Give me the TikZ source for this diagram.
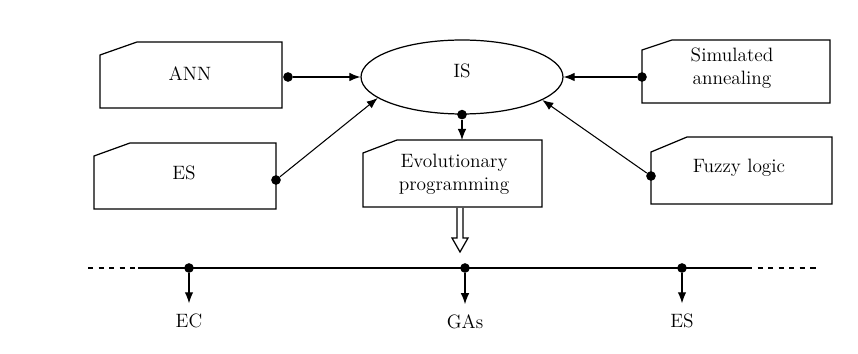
\documentclass[tikz,border=0pt]{standalone}
\usetikzlibrary{shapes.geometric,arrows.meta}
\tikzset{
  blk/.style={draw, line width=0.7pt},
  dotp/.style={circle, fill=black, inner sep=0pt, minimum size=5.5pt},
  conn/.style={-{Latex[length=2.2mm,width=1.7mm]}, line width=0.6pt},
  lbl/.style={font=\fontsize{11}{13}\selectfont, align=center}
}
\begin{document}
\begin{tikzpicture}[x=0.02cm,y=-0.02cm]
  \useasboundingbox (0,0) rectangle (858,354);
  % cut-corner boxes
  \draw[blk] (100,55) -- (137,42) -- (282,42) -- (282,108) -- (100,108) -- cycle;
  \node[lbl] (ann) at (190,74) {ANN};
  \draw[blk] (94,156) -- (130,143) -- (276,143) -- (276,209) -- (94,209) -- cycle;
  \node[lbl] (es) at (184,173) {ES};
  \draw[blk] (363,153) -- (397,140) -- (542,140) -- (542,207) -- (363,207) -- cycle;
  \node[lbl] (evo) at (454,174) {Evolutionary\\programming};
  \draw[blk] (642,50) -- (672,40) -- (830,40) -- (830,103) -- (642,103) -- cycle;
  \node[lbl] (sim) at (732,68) {Simulated\\annealing};
  \draw[blk] (651,152) -- (687,137) -- (832,137) -- (832,204) -- (651,204) -- cycle;
  \node[lbl] (fuz) at (739,168) {Fuzzy logic};
  % ellipse
  \node[draw, ellipse, line width=0.7pt, minimum width=4.04cm, minimum height=1.48cm] (is) at (462,77) {};
  \node[lbl] (istxt) at (462,71) {IS};
  % dots and connectors
  \node[dotp] (annp) at (288,77) {};
  \node[dotp] (esp) at (276,180) {};
  \node[dotp] (simp) at (642,77) {};
  \node[dotp] (fuzp) at (651,176) {};
  \node[dotp] (isp) at (is.south) {};
  \coordinate (evotop) at (462,140);
  \draw[conn] (annp) -- (is.west);
  \draw[conn] (esp) -- (is.194);
  \draw[conn] (simp) -- (is.east);
  \draw[conn] (fuzp) -- (is.344);
  \draw[conn] (isp) -- (evotop);
  % hollow arrow
  \draw[line width=0.7pt] (457,208) -- (457,238) -- (452,238) -- (460,252)
    -- (468,238) -- (463,238) -- (463,208);
  % time line
  \draw[line width=0.7pt, dashed] (88,268) -- (138,268);
  \draw[line width=0.7pt] (138,268) -- (747,268);
  \draw[line width=0.7pt, dashed] (747,268) -- (818,268);
  \node[dotp] (ecp) at (189,268) {};
  \node[dotp] (gap) at (465,268) {};
  \node[dotp] (esrp) at (682,268) {};
  \node[lbl] (ec) at (189,321) {EC};
  \node[lbl] (ga) at (465,322) {GAs};
  \node[lbl] (esr) at (682,321) {ES};
  \draw[conn, shorten >=0.9mm] (ecp) -- (ec.north);
  \draw[conn, shorten >=0.9mm] (gap) -- (ga.north);
  \draw[conn, shorten >=0.9mm] (esrp) -- (esr.north);
\end{tikzpicture}
\end{document}
